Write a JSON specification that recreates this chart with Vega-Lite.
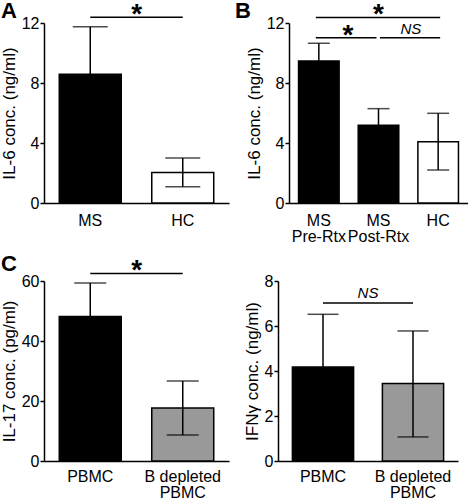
{
  "$schema": "https://vega.github.io/schema/vega-lite/v6.json",
  "padding": {"top": 0, "left": 0, "right": 0, "bottom": 0},
  "spacing": 8,
  "config": {
    "font": "Liberation Sans",
    "view": {"stroke": null},
    "axis": {"labelFont": "Liberation Sans", "labelFontSize": 16, "labelColor": "black", "titleFont": "Liberation Sans", "titleFontSize": 17, "titleFontWeight": "normal", "titleColor": "black", "domainColor": "black", "domainWidth": 1.5, "tickColor": "black", "tickWidth": 1.5, "tickSize": 4, "grid": false},
    "axisX": {"ticks": false, "labelPadding": 9, "labelAngle": 0, "labelLineHeight": 16, "title": null},
    "axisY": {"labelPadding": 1, "titlePadding": 3},
    "title": {"font": "Liberation Sans", "fontSize": 22, "fontWeight": "bold", "anchor": "start", "frame": "group", "color": "black", "baseline": "alphabetic"},
    "bar": {"stroke": "black", "strokeWidth": 1.5},
    "rule": {"color": "black", "strokeWidth": 1.5},
    "tick": {"color": "black", "thickness": 1.5, "orient": "horizontal"}
  },
  "datasets": {
    "A": [{"g": "MS", "mean": 8.58, "lo": 5.41, "hi": 11.75}, {"g": "HC", "mean": 2.04, "lo": 1.09, "hi": 3.0}],
    "B": [{"g": "MS Pre-Rtx", "mean": 9.47, "lo": 8.29, "hi": 10.65}, {"g": "MS Post-Rtx", "mean": 5.18, "lo": 4.07, "hi": 6.29}, {"g": "HC", "mean": 4.09, "lo": 2.2, "hi": 5.98}],
    "C": [{"g": "PBMC", "mean": 48.2, "lo": 37.1, "hi": 59.3}, {"g": "B depleted PBMC", "mean": 17.7, "lo": 8.7, "hi": 26.7}],
    "D": [{"g": "PBMC", "mean": 4.18, "lo": 1.84, "hi": 6.52}, {"g": "B depleted PBMC", "mean": 3.44, "lo": 1.07, "hi": 5.78}],
    "sigA": [{"from": "MS", "to": "HC", "y": 12.38, "label": "*"}],
    "sigB": [{"id": "top", "from": "MS Pre-Rtx", "to": "HC", "y": 12.37, "label": "*"}, {"id": "left", "from": "MS Pre-Rtx", "to": "MS Post-Rtx", "y": 11.02, "label": "*"}, {"id": "right", "from": "MS Post-Rtx", "to": "HC", "y": 11.02, "label": "NS"}],
    "sigC": [{"from": "PBMC", "to": "B depleted PBMC", "y": 62.47, "label": "*"}],
    "sigD": [{"from": "PBMC", "to": "B depleted PBMC", "y": 7.02, "label": "NS"}]
  },
  "vconcat": [
    {
      "bounds": "flush",
      "spacing": 60,
      "hconcat": [
        {
          "width": 185, "height": 180,
          "title": {"text": "A", "dx": -43, "offset": -22},
          "layer": [
            {"data": {"name": "A"}, "mark": "bar",
             "encoding": {
               "x": {"field": "g", "type": "nominal", "scale": {"domain": ["MS", "HC"], "paddingInner": 0.33, "paddingOuter": 0.165}, "axis": {"title": null}},
               "y": {"field": "mean", "type": "quantitative", "scale": {"domain": [0, 12], "nice": false}, "axis": {"title": "IL-6 conc. (ng/ml)", "values": [0, 4, 8, 12]}},
               "fill": {"field": "g", "type": "nominal", "scale": {"domain": ["MS", "HC", "MS Pre-Rtx", "MS Post-Rtx", "PBMC", "B depleted PBMC"], "range": ["black", "white", "black", "black", "black", "#999999"]}, "legend": null}
             }},
            {"data": {"name": "A"}, "mark": "rule", "encoding": {"x": {"field": "g", "type": "nominal"}, "y": {"field": "lo", "type": "quantitative"}, "y2": {"field": "hi"}}},
            {"data": {"name": "A"}, "mark": {"type": "tick", "size": 35}, "encoding": {"x": {"field": "g", "type": "nominal"}, "y": {"field": "hi", "type": "quantitative"}}},
            {"data": {"name": "A"}, "mark": {"type": "tick", "size": 35}, "encoding": {"x": {"field": "g", "type": "nominal"}, "y": {"field": "lo", "type": "quantitative"}}},
            {"data": {"name": "sigA"}, "mark": "rule", "encoding": {"x": {"field": "from", "type": "nominal"}, "x2": {"field": "to"}, "y": {"field": "y", "type": "quantitative"}}},
            {"data": {"name": "sigA"}, "mark": {"type": "text", "fontSize": 28, "fontWeight": "bold", "align": "center", "baseline": "alphabetic", "dy": 6, "color": "black"}, "encoding": {"x": {"field": "from", "type": "nominal", "bandPosition": 1.25}, "y": {"field": "y", "type": "quantitative"}, "text": {"field": "label"}}}
          ]
        },
        {
          "width": 179, "height": 180,
          "title": {"text": "B", "dx": -54, "offset": -22},
          "layer": [
            {"data": {"name": "B"}, "mark": "bar",
             "encoding": {
               "x": {"field": "g", "type": "nominal", "scale": {"domain": ["MS Pre-Rtx", "MS Post-Rtx", "HC"], "paddingInner": 0.32, "paddingOuter": 0.16}, "axis": {"title": null, "labelExpr": "datum.label == 'HC' ? 'HC' : datum.label == 'MS Post-Rtx' ? ['MS', '\u00a0\u00a0Post-Rtx'] : split(datum.label, ' ')"}},
               "y": {"field": "mean", "type": "quantitative", "scale": {"domain": [0, 12], "nice": false}, "axis": {"title": "IL-6 conc. (ng/ml)", "values": [0, 4, 8, 12]}},
               "fill": {"field": "g", "type": "nominal", "scale": {"domain": ["MS", "HC", "MS Pre-Rtx", "MS Post-Rtx", "PBMC", "B depleted PBMC"], "range": ["black", "white", "black", "black", "black", "#999999"]}, "legend": null}
             }},
            {"data": {"name": "B"}, "mark": "rule", "encoding": {"x": {"field": "g", "type": "nominal"}, "y": {"field": "lo", "type": "quantitative"}, "y2": {"field": "hi"}}},
            {"data": {"name": "B"}, "mark": {"type": "tick", "size": 22}, "encoding": {"x": {"field": "g", "type": "nominal"}, "y": {"field": "hi", "type": "quantitative"}}},
            {"data": {"name": "B"}, "mark": {"type": "tick", "size": 22}, "encoding": {"x": {"field": "g", "type": "nominal"}, "y": {"field": "lo", "type": "quantitative"}}},
            {"data": {"name": "sigB"}, "transform": [{"filter": "datum.id == 'top'"}], "mark": {"type": "rule", "xOffset": -3, "x2Offset": 2}, "encoding": {"x": {"field": "from", "type": "nominal"}, "x2": {"field": "to"}, "y": {"field": "y", "type": "quantitative"}}},
            {"data": {"name": "sigB"}, "transform": [{"filter": "datum.id == 'left'"}], "mark": {"type": "rule", "xOffset": -3, "x2Offset": -2}, "encoding": {"x": {"field": "from", "type": "nominal"}, "x2": {"field": "to"}, "y": {"field": "y", "type": "quantitative"}}},
            {"data": {"name": "sigB"}, "transform": [{"filter": "datum.id == 'right'"}], "mark": {"type": "rule", "xOffset": 1.5, "x2Offset": 2}, "encoding": {"x": {"field": "from", "type": "nominal"}, "x2": {"field": "to"}, "y": {"field": "y", "type": "quantitative"}}},
            {"data": {"name": "sigB"}, "transform": [{"filter": "datum.id == 'top'"}], "mark": {"type": "text", "fontSize": 28, "fontWeight": "bold", "align": "center", "baseline": "alphabetic", "dy": 6, "color": "black"}, "encoding": {"x": {"field": "from", "type": "nominal", "bandPosition": 1.97}, "y": {"field": "y", "type": "quantitative"}, "text": {"field": "label"}}},
            {"data": {"name": "sigB"}, "transform": [{"filter": "datum.id == 'left'"}], "mark": {"type": "text", "fontSize": 28, "fontWeight": "bold", "align": "center", "baseline": "alphabetic", "dy": 6, "color": "black"}, "encoding": {"x": {"field": "from", "type": "nominal", "bandPosition": 1.22}, "y": {"field": "y", "type": "quantitative"}, "text": {"field": "label"}}},
            {"data": {"name": "sigB"}, "transform": [{"filter": "datum.id == 'right'"}], "mark": {"type": "text", "fontSize": 15, "fontStyle": "italic", "align": "center", "baseline": "alphabetic", "dy": -4, "color": "black"}, "encoding": {"x": {"field": "from", "type": "nominal", "bandPosition": 1.3}, "y": {"field": "y", "type": "quantitative"}, "text": {"field": "label"}}}
          ]
        }
      ]
    },
    {
      "bounds": "flush",
      "spacing": 49,
      "hconcat": [
        {
          "width": 185, "height": 180,
          "title": {"text": "C", "dx": -43, "offset": -19},
          "layer": [
            {"data": {"name": "C"}, "mark": "bar",
             "encoding": {
               "x": {"field": "g", "type": "nominal", "scale": {"domain": ["PBMC", "B depleted PBMC"], "paddingInner": 0.33, "paddingOuter": 0.165}, "axis": {"title": null, "labelPadding": 7, "labelExpr": "datum.label == 'PBMC' ? 'PBMC' : ['B depleted', 'PBMC']"}},
               "y": {"field": "mean", "type": "quantitative", "scale": {"domain": [0, 60], "nice": false}, "axis": {"title": "IL-17 conc. (pg/ml)", "values": [0, 20, 40, 60]}},
               "fill": {"field": "g", "type": "nominal", "scale": {"domain": ["MS", "HC", "MS Pre-Rtx", "MS Post-Rtx", "PBMC", "B depleted PBMC"], "range": ["black", "white", "black", "black", "black", "#999999"]}, "legend": null}
             }},
            {"data": {"name": "C"}, "mark": "rule", "encoding": {"x": {"field": "g", "type": "nominal"}, "y": {"field": "lo", "type": "quantitative"}, "y2": {"field": "hi"}}},
            {"data": {"name": "C"}, "mark": {"type": "tick", "size": 32}, "encoding": {"x": {"field": "g", "type": "nominal"}, "y": {"field": "hi", "type": "quantitative"}}},
            {"data": {"name": "C"}, "mark": {"type": "tick", "size": 32}, "encoding": {"x": {"field": "g", "type": "nominal"}, "y": {"field": "lo", "type": "quantitative"}}},
            {"data": {"name": "sigC"}, "mark": "rule", "encoding": {"x": {"field": "from", "type": "nominal"}, "x2": {"field": "to"}, "y": {"field": "y", "type": "quantitative"}}},
            {"data": {"name": "sigC"}, "mark": {"type": "text", "fontSize": 28, "fontWeight": "bold", "align": "center", "baseline": "alphabetic", "dy": 5, "color": "black"}, "encoding": {"x": {"field": "from", "type": "nominal", "bandPosition": 1.25}, "y": {"field": "y", "type": "quantitative"}, "text": {"field": "label"}}}
          ]
        },
        {
          "width": 180, "height": 180,
          "layer": [
            {"data": {"name": "D"}, "mark": "bar",
             "encoding": {
               "x": {"field": "g", "type": "nominal", "scale": {"domain": ["PBMC", "B depleted PBMC"], "paddingInner": 0.32, "paddingOuter": 0.16}, "axis": {"title": null, "labelPadding": 7, "labelExpr": "datum.label == 'PBMC' ? 'PBMC' : ['B depleted', 'PBMC']"}},
               "y": {"field": "mean", "type": "quantitative", "scale": {"domain": [0, 8], "nice": false}, "axis": {"title": "IFNγ conc. (ng/ml)", "values": [0, 2, 4, 6, 8]}},
               "fill": {"field": "g", "type": "nominal", "scale": {"domain": ["MS", "HC", "MS Pre-Rtx", "MS Post-Rtx", "PBMC", "B depleted PBMC"], "range": ["black", "white", "black", "black", "black", "#999999"]}, "legend": null}
             }},
            {"data": {"name": "D"}, "mark": "rule", "encoding": {"x": {"field": "g", "type": "nominal"}, "y": {"field": "lo", "type": "quantitative"}, "y2": {"field": "hi"}}},
            {"data": {"name": "D"}, "mark": {"type": "tick", "size": 31}, "encoding": {"x": {"field": "g", "type": "nominal"}, "y": {"field": "hi", "type": "quantitative"}}},
            {"data": {"name": "D"}, "mark": {"type": "tick", "size": 31}, "encoding": {"x": {"field": "g", "type": "nominal"}, "y": {"field": "lo", "type": "quantitative"}}},
            {"data": {"name": "sigD"}, "mark": "rule", "encoding": {"x": {"field": "from", "type": "nominal"}, "x2": {"field": "to"}, "y": {"field": "y", "type": "quantitative"}}},
            {"data": {"name": "sigD"}, "mark": {"type": "text", "fontSize": 15, "fontStyle": "italic", "align": "center", "baseline": "alphabetic", "dy": -5, "color": "black"}, "encoding": {"x": {"field": "from", "type": "nominal", "bandPosition": 1.235}, "y": {"field": "y", "type": "quantitative"}, "text": {"field": "label"}}}
          ]
        }
      ]
    }
  ]
}
